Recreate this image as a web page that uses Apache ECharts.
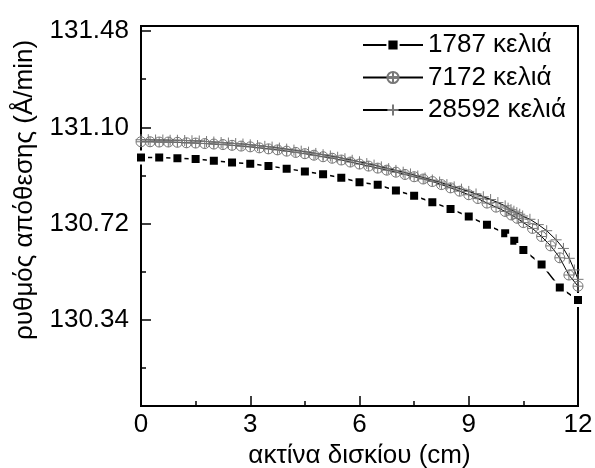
<!DOCTYPE html>
<html>
<head>
<meta charset="utf-8">
<script src="https://cdn.jsdelivr.net/npm/echarts@6/dist/echarts.min.js"></script>
<style>html,body{margin:0;padding:0;background:#fff}#c{width:595px;height:468px}</style>
</head>
<body>
<div id="c"></div>
<script>
const seriesNames = ['1787 κελιά', '7172 κελιά', '28592 κελιά'];
const xTitle = 'ακτίνα δισκίου (cm)';
const yTitle = 'ρυθμός απόθεσης (Å/min)';
const yMajorTicks = [130.34, 130.72, 131.10, 131.48];
const yMinorTicks = [130.15, 130.53, 130.91, 131.29];

const s1X = [0,0.5,1,1.5,2,2.5,3,3.5,4,4.5,5,5.5,6,6.5,7,7.5,8,8.5,9,9.5,10,10.25,10.5,11,11.5,12];
const s1Y = [130.981,130.981,130.978,130.975,130.968,130.961,130.956,130.947,130.937,130.926,130.915,130.901,130.883,130.873,130.851,130.830,130.804,130.778,130.748,130.715,130.682,130.652,130.616,130.559,130.468,130.418];

const s2X = [0,0.25,0.5,0.75,1,1.25,1.5,1.75,2,2.25,2.5,2.75,3,3.25,3.5,3.75,4,4.25,4.5,4.75,5,5.25,5.5,5.75,6,6.25,6.5,6.75,7,7.25,7.5,7.75,8,8.25,8.5,8.75,9,9.25,9.5,9.75,10,10.17,10.33,10.5,10.75,11,11.25,11.5,11.75,12];
const s2Y = [131.043,131.043,131.042,131.042,131.041,131.039,131.038,131.036,131.034,131.032,131.029,131.026,131.023,131.019,131.015,131.011,131.006,131.001,130.996,130.990,130.984,130.978,130.971,130.963,130.955,130.947,130.939,130.931,130.923,130.914,130.905,130.896,130.886,130.874,130.861,130.848,130.834,130.819,130.801,130.785,130.768,130.754,130.741,130.724,130.701,130.669,130.632,130.585,130.517,130.473];

const s3X = [0,0.2,0.4,0.6,0.8,1,1.2,1.4,1.6,1.8,2,2.2,2.4,2.6,2.8,3,3.2,3.4,3.6,3.8,4,4.2,4.4,4.6,4.8,5,5.2,5.4,5.6,5.8,6,6.2,6.4,6.6,6.8,7,7.2,7.4,7.6,7.8,8,8.2,8.4,8.6,8.8,9,9.2,9.4,9.6,9.8,10,10.08,10.16,10.24,10.32,10.4,10.48,10.68,10.91,11.14,11.4,11.6,11.76,11.9,12];
const s3Y = [131.051,131.051,131.050,131.050,131.049,131.049,131.048,131.047,131.046,131.044,131.042,131.040,131.038,131.036,131.034,131.031,131.028,131.025,131.022,131.018,131.014,131.010,131.006,131.002,130.997,130.992,130.987,130.982,130.976,130.970,130.964,130.957,130.951,130.944,130.937,130.930,130.923,130.916,130.908,130.900,130.892,130.884,130.874,130.865,130.856,130.847,130.837,130.826,130.815,130.803,130.790,130.781,130.775,130.769,130.763,130.757,130.750,130.737,130.716,130.692,130.656,130.622,130.583,130.537,130.500];

const zip = (xs, ys) => xs.map((x, i) => [x, ys[i]]);
const FONT = "'Liberation Sans', Arial, sans-serif";

const circleCross = 'path://M0,-5A5,5 0 1,1 0,5A5,5 0 1,1 0,-5ZM-5,0L5,0M0,-5L0,5';
const plusSym = 'path://M-5,0L5,0M0,-5L0,5';

const chart = echarts.init(document.getElementById('c'), null, {renderer: 'canvas'});
chart.setOption({
  animation: false,
  backgroundColor: '#fff',
  grid: {left: 141, top: 26, right: 17, bottom: 62, outerBoundsMode: 'none', containLabel: false,
    show: true, borderColor: '#000', borderWidth: 2, backgroundColor: 'transparent'},
  legend: {
    orient: 'vertical', left: 357, top: 24, itemWidth: 60, itemHeight: 14, itemGap: 0.5,
    data: seriesNames,
    textStyle: {fontFamily: FONT, fontSize: 26, color: '#000', lineHeight: 32}
  },
  xAxis: {
    type: 'value', min: 0, max: 12, interval: 3,
    name: xTitle, nameLocation: 'middle', nameGap: 34,
    nameTextStyle: {fontFamily: FONT, fontSize: 26, color: '#000'},
    axisLine: {lineStyle: {color: '#000', width: 2}},
    axisTick: {inside: true, length: 10, lineStyle: {color: '#000', width: 1.5}},
    minorTick: {show: true, splitNumber: 2, length: 5, lineStyle: {color: '#000', width: 1.5}},
    axisLabel: {fontFamily: FONT, fontSize: 26, color: '#000', margin: 6},
    splitLine: {show: false}
  },
  yAxis: [{
    type: 'value', min: 130, max: 131.5,
    axisLine: {show: true, lineStyle: {color: '#000', width: 2}},
    axisTick: {inside: true, length: 10, customValues: yMajorTicks, lineStyle: {color: '#000', width: 1.5}},
    axisLabel: {fontFamily: FONT, fontSize: 26, color: '#000', margin: 12, customValues: yMajorTicks,
      formatter: v => v.toFixed(2)},
    splitLine: {show: false}
  }, {
    type: 'value', min: 130, max: 131.5, position: 'left',
    axisLine: {show: false},
    axisTick: {show: true, inside: true, length: 5, customValues: yMinorTicks, lineStyle: {color: '#000', width: 1.5}},
    axisLabel: {show: false},
    splitLine: {show: false}
  }],
  graphic: [{
    type: 'text', x: 25, y: 190, rotation: Math.PI / 2,
    style: {text: yTitle, font: "26px 'Liberation Sans', Arial, sans-serif", fill: '#000', align: 'center', verticalAlign: 'middle'}
  }],
  series: [{
    name: seriesNames[0], type: 'line', data: zip(s1X, s1Y), yAxisIndex: 0,
    symbol: 'rect', symbolSize: 11, showAllSymbol: true,
    lineStyle: {color: '#000', width: 1.5},
    itemStyle: {color: '#000', borderColor: '#fff', borderWidth: 3},
    z: 3
  }, {
    name: seriesNames[1], type: 'line', data: zip(s2X, s2Y), yAxisIndex: 0,
    symbol: circleCross, symbolSize: 10, showAllSymbol: true,
    lineStyle: {color: '#000', width: 1},
    itemStyle: {color: 'rgba(0,0,0,0)', borderColor: '#777', borderWidth: 1},
    z: 4
  }, {
    name: seriesNames[2], type: 'line', data: zip(s3X, s3Y), yAxisIndex: 0,
    symbol: plusSym, symbolSize: 11, showAllSymbol: true,
    lineStyle: {color: '#000', width: 1},
    itemStyle: {color: 'rgba(0,0,0,0)', borderColor: '#777', borderWidth: 1},
    z: 5
  }]
});
</script>
</body>
</html>
